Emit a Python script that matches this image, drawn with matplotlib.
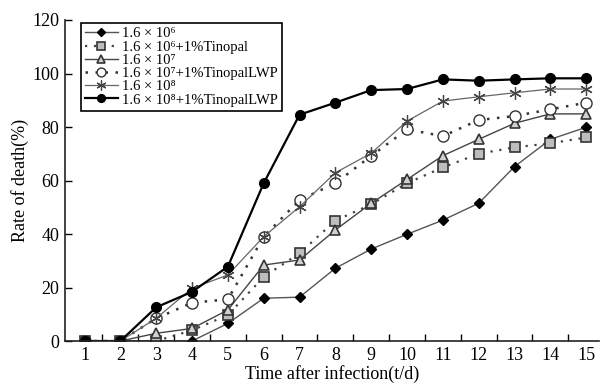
import matplotlib
matplotlib.use("Agg")
import matplotlib.pyplot as plt

plt.rcParams.update({
    "font.family": ["Liberation Serif", "DejaVu Serif"],
    "mathtext.fontset": "stix",
    "font.size": 13,
})

days = list(range(1, 16))
x_tick_labels = [str(d) for d in days]
y_ticks = [0, 20, 40, 60, 80, 100, 120]

labels = [
    "1.6 × 10⁶",
    "1.6 × 10⁶+1%Tinopal",
    "1.6 × 10⁷",
    "1.6 × 10⁷+1%TinopalLWP",
    "1.6 × 10⁸",
    "1.6 × 10⁸+1%TinopalLWP",
]

death_6 = [0, 0, 0, 0, 6.6, 16, 16.4, 27.2, 34.4, 39.9, 45.2, 51.5, 65.2, 75.4, 79.9]
death_6_tinopal = [0, 0, 0, 4, 9.7, 24, 32.8, 45, 51.1, 59, 64.9, 70, 72.4, 73.9, 76.1]
death_7 = [0, 0, 2.9, 4.7, 11.6, 28.4, 30.3, 41.5, 51.5, 60.4, 69.3, 75.4, 81.4, 84.9, 84.9]
death_7_lwp = [0, 0, 8.5, 14.3, 15.6, 39, 52.7, 59, 69.2, 79.1, 76.6, 82.6, 84.1, 86.6, 89.1]
death_8 = [0, 0, 8.5, 19.7, 24.7, 39, 50.2, 62.9, 70.2, 82.2, 89.7, 91.3, 92.8, 94.2, 94.2]
death_8_lwp = [0, 0, 12.6, 18.4, 27.8, 59, 84.6, 89.1, 93.8, 94.2, 97.8, 97.3, 97.8, 98.2, 98.2]

series = [death_6, death_6_tinopal, death_7, death_7_lwp, death_8, death_8_lwp]
asterisk = (6, 2, 0)
styles = [
    dict(marker="D", ms=5.5, mfc="black", mec="black", color="#555555", ls="-", lw=1.0),
    dict(marker="s", ms=6.5, mfc="#bdbdbd", mec="#333333", mew=1.2, color="#444444", ls=(0, (1, 3)), lw=1.6),
    dict(marker="^", ms=7, mfc="#d0d0d0", mec="#333333", mew=1.2, color="#444444", ls="-", lw=1.0),
    dict(marker="o", ms=8, mfc="white", mec="#333333", mew=1.0, color="#333333", ls=(0, (1, 3)), lw=1.8),
    dict(marker=asterisk, ms=9, mfc="none", mec="#444444", mew=0.9, color="#666666", ls="-", lw=0.9),
    dict(marker="o", ms=7, mfc="black", mec="black", color="black", ls="-", lw=1.6),
]

fig = plt.figure(figsize=(6.0, 3.92), dpi=100)
ax = fig.add_axes([0.108, 0.130, 0.890, 0.819])

for values, label, st in zip(series, labels, styles):
    ax.plot(days, values, label=label, **st)

ax.set_xlim(0.45, 15.35)
ax.set_ylim(0, 120)
ax.set_yticks(y_ticks)
ax.set_xticks(days)
ax.set_xticklabels(x_tick_labels)
ax.set_xticks([d + 0.5 for d in days[:-1]], minor=True)
ax.tick_params(axis="x", which="major", length=0, pad=4, labelsize=13)
ax.tick_params(axis="x", which="minor", direction="in", length=5, width=1.0)
ax.tick_params(axis="y", direction="in", length=5, width=1.0, labelsize=13, pad=4)
for side in ("top", "right"):
    ax.spines[side].set_visible(False)
for side in ("left", "bottom"):
    ax.spines[side].set_linewidth(1.2)
    ax.spines[side].set_color("#222222")

ax.set_xlabel("Time after infection(t/d)", fontsize=13, labelpad=1)
ax.set_ylabel("Rate of death(%)", fontsize=13, labelpad=2)

leg = ax.legend(loc="upper left", bbox_to_anchor=(0.025, 1.0), fontsize=10.5,
                frameon=True, fancybox=False, edgecolor="black", framealpha=1,
                labelspacing=0.0, handlelength=2.2, handletextpad=0.3,
                borderpad=0.3, borderaxespad=0.2, markerscale=0.8)
leg.get_frame().set_linewidth(1.2)

fig.savefig("out.png", dpi=100)
